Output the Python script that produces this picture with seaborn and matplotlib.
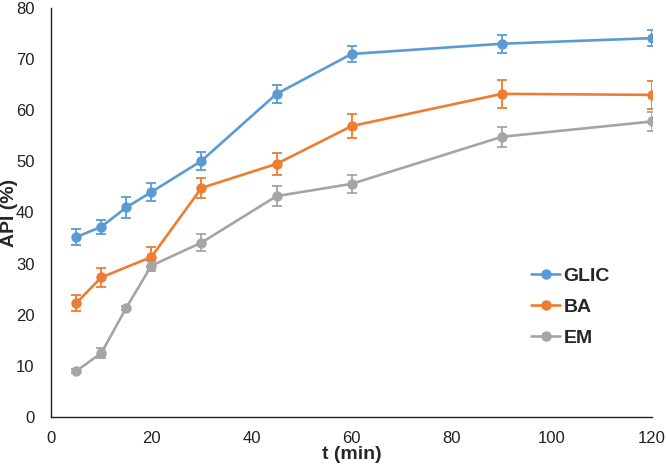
import matplotlib
matplotlib.use("Agg")
import matplotlib.pyplot as plt
import seaborn as sns
import pandas as pd

# release data
t_glic = [5, 10, 15, 20, 30, 45, 60, 90, 120]
glic = [35.2, 37.2, 41.0, 44.0, 50.1, 63.2, 71.0, 73.0, 74.1]
glic_err = [1.6, 1.4, 2.0, 1.7, 1.8, 1.8, 1.6, 1.8, 1.6]

t_ba = [5, 10, 20, 30, 45, 60, 90, 120]
ba = [22.3, 27.3, 31.3, 44.8, 49.5, 56.9, 63.2, 63.0]
ba_err = [1.6, 1.8, 1.9, 2.0, 2.2, 2.4, 2.7, 2.8]

t_em = [5, 10, 15, 20, 30, 45, 60, 90, 120]
em = [9.0, 12.5, 21.4, 29.6, 34.1, 43.2, 45.6, 54.8, 57.8]
em_err = [0.3, 1.0, 0.4, 1.0, 1.7, 1.9, 1.7, 2.0, 1.9]

series = [("GLIC", t_glic, glic, glic_err, "#5B9BD5"),
          ("BA", t_ba, ba, ba_err, "#ED7D31"),
          ("EM", t_em, em, em_err, "#A5A5A5")]

rows = []
for name, t, y, e, c in series:
    for ti, yi, ei in zip(t, y, e):
        rows.append({"t": ti, "API": yi, "err": ei, "sample": name})
df = pd.DataFrame(rows)

sns.set_style("white")
plt.rcParams['font.family'] = ['Liberation Sans', 'DejaVu Sans']

fig, ax = plt.subplots(figsize=(6.66, 4.68), dpi=100)
fig.subplots_adjust(left=0.077, right=0.979, bottom=0.109, top=0.983)

palette = {name: c for name, _, _, _, c in series}
sns.lineplot(data=df, x="t", y="API", hue="sample", palette=palette,
             marker="o", markersize=7.5, markeredgewidth=0, linewidth=1.9,
             ax=ax, errorbar=None)

for name, t, y, e, c in series:
    ax.errorbar(t, y, yerr=e, fmt="none", ecolor=c, elinewidth=1.3,
                capsize=3.5, capthick=1.3, zorder=1)

ax.set_xlim(0, 120)
ax.set_ylim(0, 80)
ax.set_xticks(range(0, 121, 20))
ax.set_yticks(range(0, 81, 10))
ax.tick_params(axis='x', length=0, labelsize=12, colors="#222222", pad=10)
ax.tick_params(axis='y', length=0, labelsize=12, colors="#222222", pad=12)
ax.spines['top'].set_visible(False)
ax.spines['right'].set_visible(False)
for s in ['left', 'bottom']:
    ax.spines[s].set_color("#222222")
    ax.spines[s].set_linewidth(1.0)

ax.set_xlabel("t (min)", fontsize=14, fontweight="bold", labelpad=0)
ax.set_ylabel("API (%)", fontsize=14, fontweight="bold")
ax.yaxis.set_label_coords(-0.056, 0.5)

leg = ax.legend(loc="upper left", bbox_to_anchor=(0.786, 0.385), frameon=False,
                prop={"size": 14, "weight": "bold"}, handlelength=1.5,
                handletextpad=0.15, labelspacing=0.68, borderaxespad=0)

fig.savefig("out.png", dpi=100)
